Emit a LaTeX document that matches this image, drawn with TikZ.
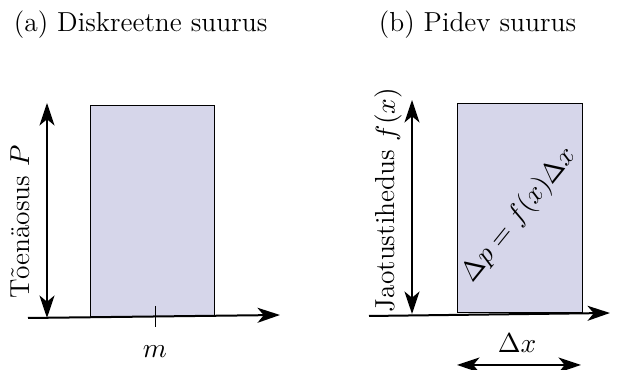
\documentclass[tikz,border=0pt]{standalone}
\usepackage{amsmath,amssymb}
\usetikzlibrary{arrows.meta,positioning,calc}
\definecolor{barfill}{RGB}{214,214,234}

\begin{document}
\begin{tikzpicture}[x=0.4pt, y=-0.4pt,
    every node/.style={font=\fontsize{11}{13}\selectfont},
    axis/.style={thick, -{Stealth[length=9pt, width=6pt, inset=2.5pt]}},
    dbl/.style={thick, {Stealth[length=9pt, width=6pt, inset=2.5pt]}-{Stealth[length=9pt, width=6pt, inset=2.5pt]}},
    bar/.style={draw, fill=barfill, thin}]
    \useasboundingbox (0,0) rectangle (620,370);

    % (a) Discrete
    \node[anchor=west] (ta) at (5,25) {(a) Diskreetne suurus};
    \draw[bar] (90,106) rectangle (214,317);
    \coordinate (a0) at (28,318);
    \coordinate (a1) at (280,315);
    \draw[axis] (a0) -- (a1);
    \coordinate (pb) at (47,318);
    \coordinate (pt) at (47,103);
    \draw[dbl] (pb) -- (pt);
    \coordinate (mt) at (155,306);
    \coordinate (mb) at (155,327);
    \draw[thin] (mt) -- (mb);
    \node (m) at (155,352) {$m$};
    \node[rotate=90] (lp) at (20,222) {Tõenäosus $P$};

    % (b) Continuous
    \node[anchor=west] (tb) at (370,25) {(b) Pidev suurus};
    \draw[bar] (457,104) rectangle (582,313);
    \coordinate (b0) at (369,316);
    \coordinate (b1) at (610,313);
    \draw[axis] (b0) -- (b1);
    \coordinate (fb) at (412,314);
    \coordinate (ft) at (412,100);
    \draw[dbl] (fb) -- (ft);
    \node[rotate=90] (lf) at (388,200) {Jaotustihedus $f(x)$};
    \node[rotate=51] (dp) at (519,215) {$\Delta p = f(x)\Delta x$};
    \node (dx) at (517,343) {$\Delta x$};
    \coordinate (dl) at (457,365);
    \coordinate (dr) at (581,365);
    \draw[dbl] (dl) -- (dr);
\end{tikzpicture}
\end{document}
